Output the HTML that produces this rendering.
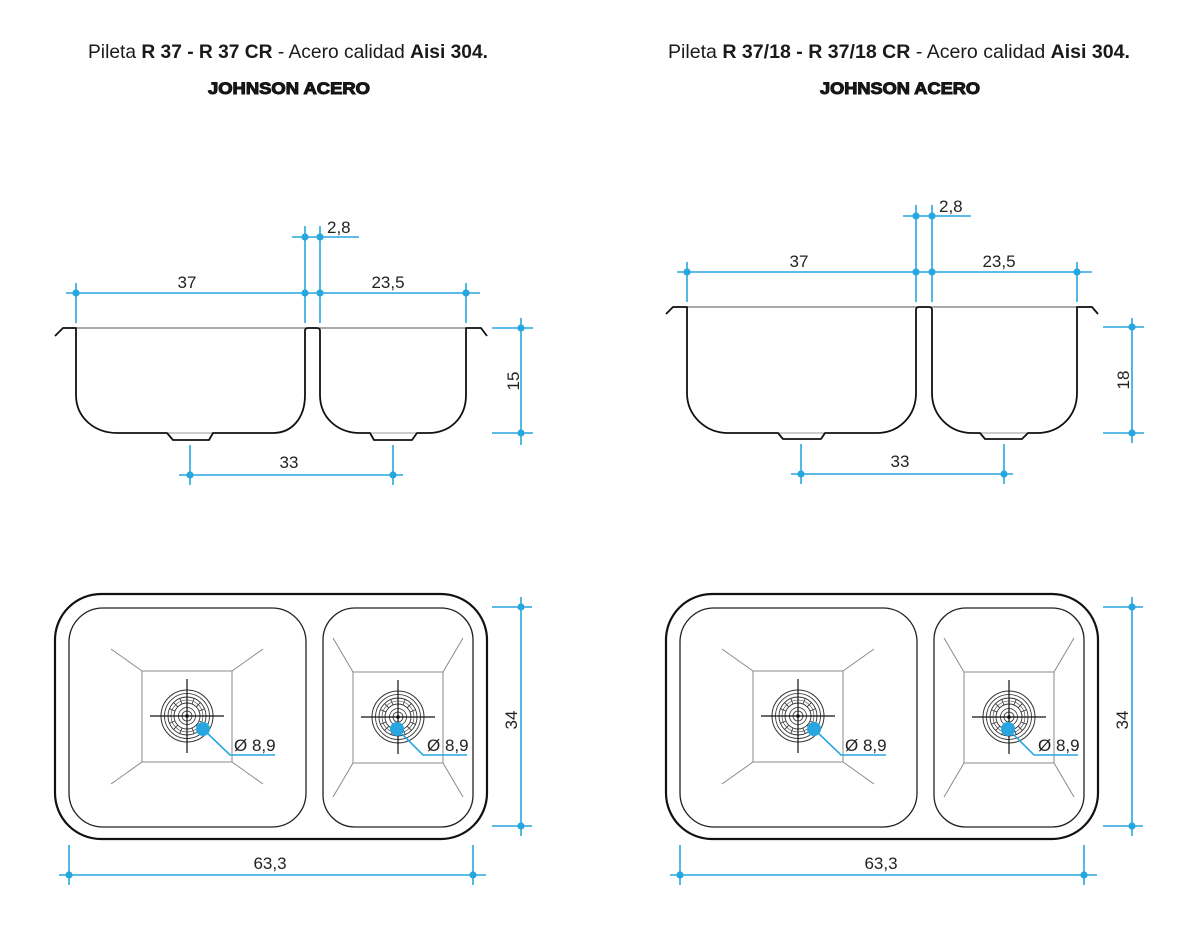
<!DOCTYPE html>
<html>
<head>
<meta charset="utf-8">
<style>
  html,body{margin:0;padding:0;background:#fff;}
  svg{display:block;}
  .t{font-family:"Liberation Sans",sans-serif;fill:#1a1a1a;}
  .d{font-family:"Liberation Sans",sans-serif;font-size:17px;fill:#222;}
</style>
</head>
<body>
<svg width="1200" height="928" viewBox="0 0 1200 928" xmlns="http://www.w3.org/2000/svg">
  <defs>
    <g id="drain">
      <g fill="none" stroke="#333">
        <circle r="26" stroke-width="1"/>
        <circle r="22.5" stroke-width="0.8"/>
        <circle r="19" stroke-width="0.9"/>
        <circle r="16" stroke-width="0.6"/>
        <circle r="13" stroke-width="0.9"/>
        <circle r="8.5" stroke-width="0.8"/>
        <circle r="5" stroke-width="0.8"/>
        <path stroke-width="0.8" d="M13,0L19,0 M12.01,4.97L17.55,7.27 M9.19,9.19L13.43,13.43 M4.97,12.01L7.27,17.55 M0,13L0,19 M-4.97,12.01L-7.27,17.55 M-9.19,9.19L-13.43,13.43 M-12.01,4.97L-17.55,7.27 M-13,0L-19,0 M-12.01,-4.97L-17.55,-7.27 M-9.19,-9.19L-13.43,-13.43 M-4.97,-12.01L-7.27,-17.55 M0,-13L0,-19 M4.97,-12.01L7.27,-17.55 M9.19,-9.19L13.43,-13.43 M12.01,-4.97L17.55,-7.27"/>
      </g>
      <circle r="1.8" fill="#111"/>
      <path d="M-37,0H37M0,-37V37" stroke="#111" stroke-width="1.2"/>
    </g>
    <g id="plan">
      <rect x="55" y="594" width="432" height="245" rx="46" ry="46" fill="none" stroke="#111" stroke-width="2.2"/>
      <rect x="69" y="608" width="237" height="219" rx="34" ry="34" fill="none" stroke="#222" stroke-width="1.3"/>
      <rect x="323" y="608" width="150" height="219" rx="32" ry="32" fill="none" stroke="#222" stroke-width="1.3"/>
      <g fill="none" stroke="#8a8a8a" stroke-width="1">
        <rect x="142" y="671" width="90" height="91"/>
        <path d="M142,671L111,649 M232,671L263,649 M142,762L111,784 M232,762L263,784"/>
        <rect x="353" y="672" width="90" height="91"/>
        <path d="M353,672L333,638 M443,672L463,638 M353,763L333,797 M443,763L463,797"/>
      </g>
      <use href="#drain" x="187" y="716"/>
      <use href="#drain" x="398" y="717"/>
      <g stroke="#27a6df" stroke-width="1.6" fill="none">
        <path d="M521,597V836 M492,607H532 M492,826H532"/>
        <path d="M59,875H486 M69,845V885 M473,845V885"/>
        <path d="M203,729L230,755H275 M397,729L423,755H467"/>
      </g>
      <g fill="#27a6df">
        <circle cx="521" cy="607" r="3.6"/><circle cx="521" cy="826" r="3.6"/>
        <circle cx="69" cy="875" r="3.6"/><circle cx="473" cy="875" r="3.6"/>
        <circle cx="203" cy="729" r="7"/><circle cx="397" cy="729" r="7"/>
      </g>
    </g>
  </defs>

  <!-- ===== Titles ===== -->
  <text class="t" x="88" y="58" font-size="19.5" textLength="400" lengthAdjust="spacingAndGlyphs">Pileta <tspan font-weight="bold">R 37 - R 37 CR</tspan> - Acero calidad <tspan font-weight="bold">Aisi 304.</tspan></text>
  <text class="t" x="208" y="94" font-size="16.5" font-weight="bold" textLength="162" lengthAdjust="spacingAndGlyphs" stroke="#111" stroke-width="1">JOHNSON ACERO</text>

  <text class="t" x="668" y="58" font-size="19.5" textLength="462" lengthAdjust="spacingAndGlyphs">Pileta <tspan font-weight="bold">R 37/18 - R 37/18 CR</tspan> - Acero calidad <tspan font-weight="bold">Aisi 304.</tspan></text>
  <text class="t" x="820" y="94" font-size="16.5" font-weight="bold" textLength="160" lengthAdjust="spacingAndGlyphs" stroke="#111" stroke-width="1">JOHNSON ACERO</text>

  <!-- ===== Left top section view ===== -->
  <path d="M63,328H481" stroke="#777" stroke-width="1.2" fill="none"/>
  <path d="M167,433H213 M370,433H417" stroke="#999" stroke-width="1" fill="none"/>
  <path d="M55,336L63,328L76,328L76,395C76,418 95,433 117,433L167,433L173,440L209,440L213,433L273,433C292,433 305,418 305,395L305,331Q305,328 308,328L317,328Q320,328 320,331L320,395C320,418 338,433 360,433L370,433L374,440L412,440L417,433L428,433C450,433 466,418 466,395L466,328L481,328L487,336" fill="none" stroke="#111" stroke-width="1.8" stroke-linejoin="round"/>

  <g stroke="#27a6df" stroke-width="1.6" fill="none">
    <path d="M292,237H359 M305,226V323 M320,226V323"/>
    <path d="M66,293H480 M76,283V323 M466,283V323"/>
    <path d="M521,318V445 M492,328H533 M492,433H533"/>
    <path d="M179,475H403 M190,445V485 M393,445V485"/>
  </g>
  <g fill="#27a6df">
    <circle cx="305" cy="237" r="3.6"/><circle cx="320" cy="237" r="3.6"/>
    <circle cx="76" cy="293" r="3.6"/><circle cx="305" cy="293" r="3.6"/>
    <circle cx="320" cy="293" r="3.6"/><circle cx="466" cy="293" r="3.6"/>
    <circle cx="521" cy="328" r="3.6"/><circle cx="521" cy="433" r="3.6"/>
    <circle cx="190" cy="475" r="3.6"/><circle cx="393" cy="475" r="3.6"/>
  </g>
  <text class="d" x="327" y="233">2,8</text>
  <text class="d" x="187" y="288" text-anchor="middle">37</text>
  <text class="d" x="388" y="288" text-anchor="middle">23,5</text>
  <text class="d" x="289" y="468" text-anchor="middle">33</text>
  <text class="d" transform="translate(519,381) rotate(-90)" text-anchor="middle">15</text>

  <!-- ===== Right top section view ===== -->
  <path d="M673,307H1092" stroke="#777" stroke-width="1.2" fill="none"/>
  <path d="M778,433H825 M980,433H1028" stroke="#999" stroke-width="1" fill="none"/>
  <path d="M666,314L673,307L687,307L687,393C687,416 706,433 728,433L778,433L783,439L821,439L825,433L877,433C899,433 916,416 916,393L916,310Q916,307 919,307L929,307Q932,307 932,310L932,393C932,416 950,433 972,433L980,433L985,439L1022,439L1028,433L1037,433C1060,433 1077,416 1077,393L1077,307L1092,307L1098,314" fill="none" stroke="#111" stroke-width="1.8" stroke-linejoin="round"/>

  <g stroke="#27a6df" stroke-width="1.6" fill="none">
    <path d="M903,216H971 M916,205V302 M932,205V302"/>
    <path d="M677,272H1092 M687,262V302 M1077,262V302"/>
    <path d="M1132,318V443 M1103,327H1144 M1103,433H1144"/>
    <path d="M791,474H1013 M801,444V484 M1004,444V484"/>
  </g>
  <g fill="#27a6df">
    <circle cx="916" cy="216" r="3.6"/><circle cx="932" cy="216" r="3.6"/>
    <circle cx="687" cy="272" r="3.6"/><circle cx="916" cy="272" r="3.6"/>
    <circle cx="932" cy="272" r="3.6"/><circle cx="1077" cy="272" r="3.6"/>
    <circle cx="1132" cy="327" r="3.6"/><circle cx="1132" cy="433" r="3.6"/>
    <circle cx="801" cy="474" r="3.6"/><circle cx="1004" cy="474" r="3.6"/>
  </g>
  <text class="d" x="939" y="212">2,8</text>
  <text class="d" x="799" y="267" text-anchor="middle">37</text>
  <text class="d" x="999" y="267" text-anchor="middle">23,5</text>
  <text class="d" x="900" y="467" text-anchor="middle">33</text>
  <text class="d" transform="translate(1129,380) rotate(-90)" text-anchor="middle">18</text>

  <!-- ===== Plan views ===== -->
  <use href="#plan"/>
  <text class="d" x="234" y="751">Ø 8,9</text>
  <text class="d" x="427" y="751">Ø 8,9</text>
  <text class="d" x="270" y="869" text-anchor="middle">63,3</text>
  <text class="d" transform="translate(517,720) rotate(-90)" text-anchor="middle">34</text>

  <use href="#plan" x="611" y="0"/>
  <text class="d" x="845" y="751">Ø 8,9</text>
  <text class="d" x="1038" y="751">Ø 8,9</text>
  <text class="d" x="881" y="869" text-anchor="middle">63,3</text>
  <text class="d" transform="translate(1128,720) rotate(-90)" text-anchor="middle">34</text>
</svg>
</body>
</html>
